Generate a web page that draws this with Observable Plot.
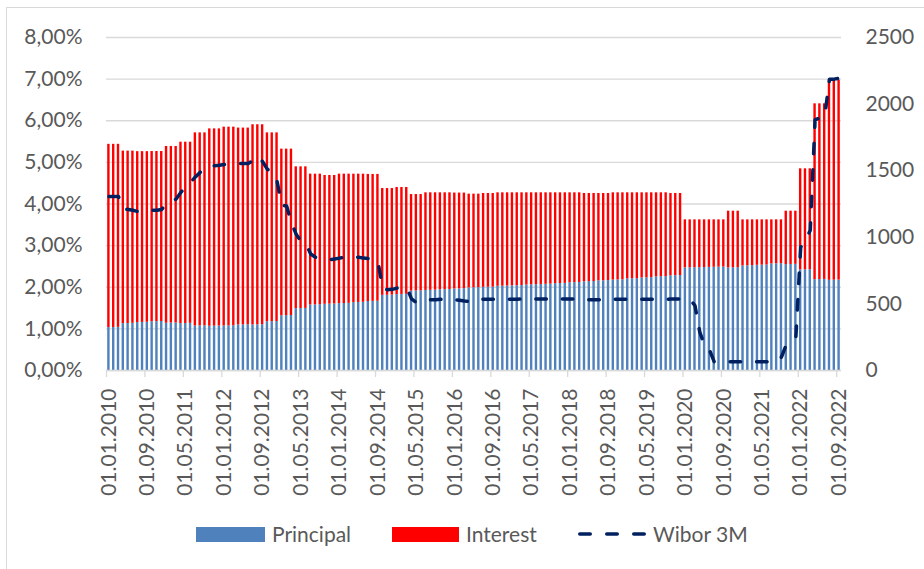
<!DOCTYPE html>
<html>
<head>
<meta charset="utf-8">
<script src="https://cdn.jsdelivr.net/npm/d3@7"></script>
<script src="https://cdn.jsdelivr.net/npm/@observablehq/plot@0.6"></script>
<style>
  html, body { margin: 0; padding: 0; background: #ffffff; }
  #wrap { position: relative; width: 924px; height: 569px; overflow: hidden; font-family: Lato, "Open Sans", sans-serif; }
  #frame { position: absolute; left: 6px; top: 7px; width: 960px; height: 620px; border: 1px solid #d9d9d9; box-sizing: border-box; pointer-events: none; }
  #chart { position: absolute; left: 0; top: 0; }
  #legend { position: absolute; left: 0; top: 515px; width: 924px; height: 54px; }
  .sw { position: absolute; top: 12px; height: 15px; }
  .lt { position: absolute; top: 7px; line-height: 24px; font-size: 21px; color: #595959; white-space: nowrap; }
</style>
</head>
<body>
<div id="wrap">
  <div id="frame"></div>
  <div id="chart"></div>
  <div id="legend">
    <div class="sw" style="left:196px;width:69px;background:#4F81BD"></div>
    <div class="lt" style="left:272px">Principal</div>
    <div class="sw" style="left:392px;width:67px;background:#FF0000"></div>
    <div class="lt" style="left:466px">Interest</div>
    <svg style="position:absolute;left:576px;top:0" width="76" height="40">
      <line x1="3.75" y1="19" x2="72" y2="19" stroke="#002060" stroke-width="3.5" stroke-linecap="round" stroke-dasharray="10.5,16.5"></line>
    </svg>
    <div class="lt" style="left:653px">Wibor 3M</div>
  </div>
</div>
<script>
const months = [
"01.01.2010","01.02.2010","01.03.2010","01.04.2010","01.05.2010","01.06.2010","01.07.2010","01.08.2010","01.09.2010","01.10.2010","01.11.2010","01.12.2010",
"01.01.2011","01.02.2011","01.03.2011","01.04.2011","01.05.2011","01.06.2011","01.07.2011","01.08.2011","01.09.2011","01.10.2011","01.11.2011","01.12.2011",
"01.01.2012","01.02.2012","01.03.2012","01.04.2012","01.05.2012","01.06.2012","01.07.2012","01.08.2012","01.09.2012","01.10.2012","01.11.2012","01.12.2012",
"01.01.2013","01.02.2013","01.03.2013","01.04.2013","01.05.2013","01.06.2013","01.07.2013","01.08.2013","01.09.2013","01.10.2013","01.11.2013","01.12.2013",
"01.01.2014","01.02.2014","01.03.2014","01.04.2014","01.05.2014","01.06.2014","01.07.2014","01.08.2014","01.09.2014","01.10.2014","01.11.2014","01.12.2014",
"01.01.2015","01.02.2015","01.03.2015","01.04.2015","01.05.2015","01.06.2015","01.07.2015","01.08.2015","01.09.2015","01.10.2015","01.11.2015","01.12.2015",
"01.01.2016","01.02.2016","01.03.2016","01.04.2016","01.05.2016","01.06.2016","01.07.2016","01.08.2016","01.09.2016","01.10.2016","01.11.2016","01.12.2016",
"01.01.2017","01.02.2017","01.03.2017","01.04.2017","01.05.2017","01.06.2017","01.07.2017","01.08.2017","01.09.2017","01.10.2017","01.11.2017","01.12.2017",
"01.01.2018","01.02.2018","01.03.2018","01.04.2018","01.05.2018","01.06.2018","01.07.2018","01.08.2018","01.09.2018","01.10.2018","01.11.2018","01.12.2018",
"01.01.2019","01.02.2019","01.03.2019","01.04.2019","01.05.2019","01.06.2019","01.07.2019","01.08.2019","01.09.2019","01.10.2019","01.11.2019","01.12.2019",
"01.01.2020","01.02.2020","01.03.2020","01.04.2020","01.05.2020","01.06.2020","01.07.2020","01.08.2020","01.09.2020","01.10.2020","01.11.2020","01.12.2020",
"01.01.2021","01.02.2021","01.03.2021","01.04.2021","01.05.2021","01.06.2021","01.07.2021","01.08.2021","01.09.2021","01.10.2021","01.11.2021","01.12.2021",
"01.01.2022","01.02.2022","01.03.2022","01.04.2022","01.05.2022","01.06.2022","01.07.2022","01.08.2022","01.09.2022"
];

const principal = [
322,323,324, 352,353,354, 360,361,362, 366,367,368,
355,356,357, 352,353,354, 334,335,336, 332,333,334,
334,335,336, 342,343,344, 342,343,344, 366,367,368,
411,412,413, 464,465,466, 492,493,494, 497,498,499,
502,503,504, 510,511,512, 518,519,520, 564,565,566,
570,571,572, 596,597,598, 601,602,603, 606,607,608,
612,613,614, 620,621,622, 624,625,626, 632,633,634,
636,637,638, 642,643,644, 646,647,648, 652,653,654,
659,660,661, 666,667,668, 673,674,675, 679,680,681,
688,689,690, 695,696,697, 703,704,705, 711,712,713,
770,771,772, 772,773,774, 775,776,777, 770,771,772,
785,786,787, 790,791,792, 800,801,802, 795,796,797,
755,756,757, 682,683,684, 677,678,679
];

const interest = [
1376,1375,1374, 1295,1294,1293, 1283,1282,1281, 1278,1277,1276,
1327,1326,1325, 1362,1361,1360, 1450,1449,1448, 1482,1481,1480,
1493,1492,1491, 1478,1477,1476, 1503,1502,1501, 1418,1417,1416,
1251,1250,1249, 1065,1064,1063, 982,981,980, 967,966,965,
972,971,970, 964,963,962, 954,953,952, 802,801,800,
804,803,802, 725,724,723, 733,732,731, 728,727,726,
720,719,718, 704,703,702, 705,704,703, 702,701,700,
698,697,696, 692,691,690, 688,687,686, 682,681,680,
675,674,673, 663,662,661, 656,655,654, 655,654,653,
646,645,644, 639,638,637, 631,630,629, 618,617,616,
361,360,359, 359,358,357, 356,355,354, 426,425,424,
346,345,344, 341,340,339, 331,330,329, 401,400,399,
759,758,757, 1320,1319,1318, 1503,1502,1501
];

const wibor = [
4.18,4.18,4.18,3.88,3.87,3.85,3.82,3.82,3.83,3.85,3.85,3.87,
4.02,4.05,4.12,4.28,4.42,4.52,4.65,4.76,4.87,4.92,4.92,4.93,
4.95,4.96,4.97,4.97,4.97,4.97,5.05,5.15,5.02,4.83,4.78,4.55,
3.97,3.95,3.55,3.27,3.10,3.05,2.80,2.72,2.71,2.69,2.66,2.68,
2.70,2.72,2.72,2.72,2.72,2.70,2.69,2.68,2.62,1.96,1.94,1.95,
1.98,2.00,1.99,1.72,1.63,1.65,1.68,1.70,1.70,1.71,1.72,1.71,
1.70,1.69,1.67,1.66,1.66,1.71,1.71,1.71,1.71,1.71,1.71,1.71,
1.71,1.71,1.72,1.72,1.72,1.72,1.72,1.72,1.72,1.72,1.72,1.72,
1.72,1.72,1.72,1.70,1.70,1.70,1.70,1.71,1.71,1.71,1.71,1.71,
1.71,1.71,1.71,1.71,1.71,1.71,1.71,1.71,1.71,1.72,1.72,1.72,
1.72,1.70,1.56,0.92,0.60,0.50,0.21,0.21,0.21,0.21,0.21,0.21,
0.21,0.21,0.21,0.21,0.21,0.21,0.21,0.21,0.32,0.62,0.70,0.80,
2.96,3.12,3.37,6.02,6.07,6.10,7.00,7.00,7.02
];

// axis tick definitions
const leftTickPct = [0, 1, 2, 3, 4, 5, 6, 7, 8];
const leftTickLabels = ["0,00%","1,00%","2,00%","3,00%","4,00%","5,00%","6,00%","7,00%","8,00%"];
const rightTicks = [0, 500, 1000, 1500, 2000, 2500];
const xTickLabels = ["01.01.2010","01.09.2010","01.05.2011","01.01.2012","01.09.2012","01.05.2013","01.01.2014","01.09.2014","01.05.2015","01.01.2016","01.09.2016","01.05.2017","01.01.2018","01.09.2018","01.05.2019","01.01.2020","01.09.2020","01.05.2021","01.01.2022","01.09.2022"];

const pctToRight = 2500 / 8; // left axis 0–8 % shares the plot height with right axis 0–2500

const data = months.map((m, i) => ({
  i, m,
  p: principal[i],
  r: interest[i],
  w: wibor[i]
}));

const xTickIdx = xTickLabels.map(l => months.indexOf(l));

const chart = Plot.plot({
  width: 924,
  height: 515,
  marginLeft: 106,
  marginRight: 83,
  marginTop: 37,
  marginBottom: 145,
  style: { fontFamily: "Lato, 'Open Sans', sans-serif", fontSize: "21px", color: "#595959", background: "transparent", overflow: "visible" },
  x: { type: "linear", domain: [0, months.length], axis: null },
  y: { type: "linear", domain: [0, 2500], axis: null },
  marks: [
    Plot.ruleY(leftTickPct, { y: d => d * pctToRight, stroke: "#d9d9d9", strokeWidth: 1.3, strokeOpacity: 1 }),
    Plot.rect(data, { x1: "i", x2: d => d.i + 1, y1: 0, y2: "p", fill: "#4F81BD", insetLeft: 1.2, insetRight: 1.2 }),
    Plot.rect(data, { x1: "i", x2: d => d.i + 1, y1: "p", y2: d => d.p + d.r, fill: "#FF0000", insetLeft: 1.2, insetRight: 1.2 }),
    Plot.ruleY([0], { stroke: "#d9d9d9", strokeWidth: 1.3 }),
    Plot.ruleX(xTickIdx, { x: d => d, y1: 0, y2: 0, insetBottom: -7, stroke: "#d9d9d9", strokeWidth: 1.3 }),
    Plot.line(data, {
      x: d => d.i + 0.5, y: d => d.w * pctToRight,
      stroke: "#002060", strokeWidth: 3.5, strokeDasharray: "10.5,16",
      strokeLinecap: "round", strokeLinejoin: "round"
    }),
    Plot.axisY(leftTickPct.map(d => d * pctToRight), {
      anchor: "left", tickSize: 0, tickPadding: 24, label: null,
      tickFormat: d => leftTickLabels[Math.round(d / pctToRight)]
    }),
    Plot.axisY(rightTicks, {
      anchor: "right", tickSize: 0, tickPadding: 24, label: null,
      tickFormat: d => String(d)
    }),
    Plot.axisX(xTickIdx.map(i => i + 0.5), {
      anchor: "bottom", tickSize: 0, tickPadding: 18, tickRotate: -90, label: null,
      tickFormat: d => months[Math.round(d - 0.5)]
    })
  ]
});

document.getElementById("chart").appendChild(chart);
</script>
</body>
</html>
